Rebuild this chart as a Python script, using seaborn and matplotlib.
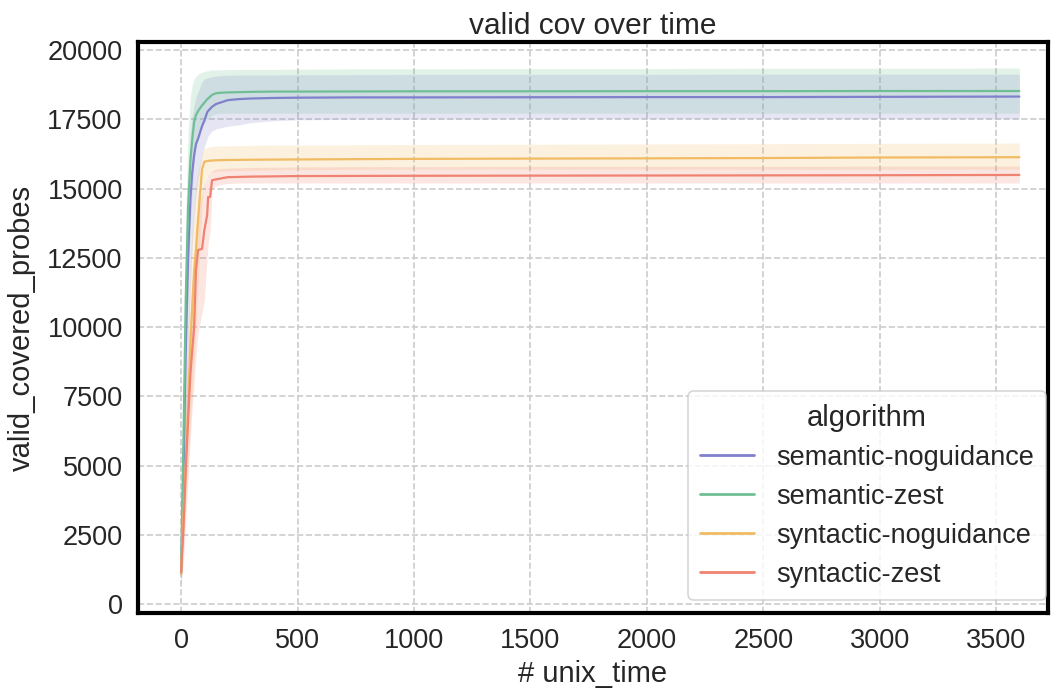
import matplotlib
matplotlib.use("Agg")
import matplotlib.pyplot as plt
import seaborn as sns
import pandas as pd
import numpy as np

# ---- data ----
time = [0, 10, 20, 30, 40, 47, 56, 64, 73, 90, 100, 112, 116, 125, 133, 150, 175,
        200, 250, 300, 400, 500, 750, 1000, 1500, 2000, 2500, 3000, 3600]

algorithms = ["semantic-noguidance", "semantic-zest", "syntactic-noguidance", "syntactic-zest"]

sem_nog_mean = [1100, 4500, 9200, 12500, 14600, 15500, 16200, 16600, 16800, 17250, 17450, 17750,
                17800, 17880, 17950, 18050, 18120, 18190, 18230, 18250, 18270, 18280, 18290,
                18290, 18295, 18300, 18300, 18310, 18320]
sem_nog_lo = [700, 2500, 6000, 9000, 11500, 12800, 14000, 14800, 15300, 16200, 16500, 16800,
              16900, 17000, 17080, 17150, 17200, 17250, 17300, 17380, 17450, 17480, 17500,
              17500, 17510, 17510, 17510, 17510, 17510]
sem_nog_hi = [1500, 7000, 12500, 15500, 17000, 17600, 18000, 18300, 18500, 18850, 18950, 19000,
              19000, 19020, 19040, 19060, 19080, 19090, 19100, 19100, 19100, 19110, 19110,
              19120, 19120, 19120, 19130, 19130, 19130]

sem_zest_mean = [1100, 5800, 11000, 14300, 16000, 16700, 17400, 17650, 17800, 18000, 18100, 18220,
                 18250, 18320, 18380, 18440, 18460, 18470, 18480, 18490, 18500, 18500, 18505,
                 18510, 18510, 18515, 18515, 18520, 18520]
sem_zest_lo = [700, 3500, 8000, 11500, 13800, 14800, 16000, 16600, 17000, 17300, 17400, 17520,
               17550, 17600, 17650, 17700, 17710, 17720, 17720, 17720, 17720, 17720, 17720,
               17720, 17720, 17720, 17720, 17720, 17720]
sem_zest_hi = [1500, 8000, 14000, 17000, 18300, 18700, 18950, 19050, 19120, 19200, 19220, 19250,
               19250, 19270, 19280, 19280, 19290, 19290, 19300, 19300, 19300, 19310, 19320,
               19320, 19330, 19330, 19340, 19340, 19350]

syn_nog_mean = [1100, 3200, 5000, 7000, 9400, 10600, 12000, 12800, 13900, 15700, 15970, 15990,
                16000, 16005, 16010, 16020, 16025, 16030, 16035, 16040, 16045, 16050, 16060,
                16070, 16080, 16090, 16100, 16120, 16130]
syn_nog_lo = [700, 2000, 3500, 5000, 6500, 7500, 8800, 10000, 11500, 14500, 15200, 15450,
              15500, 15550, 15600, 15620, 15630, 15640, 15650, 15660, 15670, 15680, 15690,
              15700, 15700, 15700, 15700, 15700, 15700]
syn_nog_hi = [1500, 5000, 7500, 10000, 12500, 13500, 14500, 15200, 15600, 16300, 16450, 16480,
              16500, 16510, 16520, 16530, 16540, 16540, 16550, 16560, 16570, 16570, 16580,
              16590, 16600, 16610, 16620, 16630, 16640]

syn_zest_mean = [1150, 2700, 4800, 6640, 8300, 9060, 10000, 12060, 12780, 12820, 13500, 14040,
                 14690, 14700, 15300, 15330, 15370, 15410, 15420, 15430, 15440, 15450, 15455,
                 15460, 15465, 15470, 15475, 15480, 15490]
syn_zest_lo = [700, 1500, 3000, 4500, 6000, 7000, 8000, 9000, 9800, 10500, 11000, 12500,
               13000, 13500, 15000, 15100, 15150, 15180, 15200, 15200, 15200, 15200, 15200,
               15200, 15200, 15200, 15200, 15200, 15200]
syn_zest_hi = [1500, 4500, 7000, 9000, 10500, 11500, 12500, 13500, 14300, 14800, 15200, 15400,
               15500, 15550, 15650, 15700, 15720, 15740, 15750, 15760, 15770, 15780, 15790,
               15790, 15800, 15800, 15800, 15810, 15810]

colors = ["#8080cc", "#6fbf95", "#f0bb62", "#f08272"]

means = [sem_nog_mean, sem_zest_mean, syn_nog_mean, syn_zest_mean]
los = [sem_nog_lo, sem_zest_lo, syn_nog_lo, syn_zest_lo]
his = [sem_nog_hi, sem_zest_hi, syn_nog_hi, syn_zest_hi]

rows = []
for alg, m in zip(algorithms, means):
    for t, v in zip(time, m):
        rows.append({"unix_time": t, "valid_covered_probes": v, "algorithm": alg})
df = pd.DataFrame(rows)

# ---- style ----
sns.set_theme(style="whitegrid")
plt.rcParams["font.family"] = ["Liberation Sans", "DejaVu Sans"]
plt.rcParams["grid.linestyle"] = "--"

fig = plt.figure(figsize=(10.52, 6.9), dpi=100)
ax = fig.add_axes([138 / 1052, 1 - 613 / 690, (1048 - 138) / 1052, (613 - 42) / 690])

palette = dict(zip(algorithms, colors))
for alg, lo, hi in zip(algorithms, los, his):
    ax.fill_between(time, lo, hi, color=palette[alg], alpha=0.2, linewidth=0)

sns.lineplot(data=df, x="unix_time", y="valid_covered_probes", hue="algorithm",
             hue_order=algorithms, palette=palette, linewidth=1.6, ax=ax)

ax.set_xlim(-185, 3723)
ax.set_ylim(-325, 20290)
ax.set_xticks(np.arange(0, 3501, 500))
ax.set_yticks(np.arange(0, 20001, 2500))
ax.tick_params(axis="both", labelsize=19.5, colors="#262626", pad=5)
ax.grid(True, linestyle="--", color="#cccccc", linewidth=1.2)

for s in ax.spines.values():
    s.set_color("black")
    s.set_linewidth(3)

ax.set_title("valid cov over time", fontsize=21.5, color="#262626", pad=5.5)
ax.set_xlabel("# unix_time", fontsize=21, color="#262626", labelpad=4)
ax.set_ylabel("valid_covered_probes", fontsize=21, color="#262626", labelpad=8)

leg = ax.legend(title="algorithm", loc="lower right", fontsize=19.5, title_fontsize=21,
                frameon=True, borderpad=0.45, labelspacing=0.48, handlelength=2.0,
                borderaxespad=0, bbox_to_anchor=(0.998, 0.023))
leg.get_frame().set_edgecolor("#cccccc")
leg.get_frame().set_linewidth(1.2)
for line in leg.get_lines():
    line.set_linewidth(2)

fig.savefig("out.png", dpi=100)
